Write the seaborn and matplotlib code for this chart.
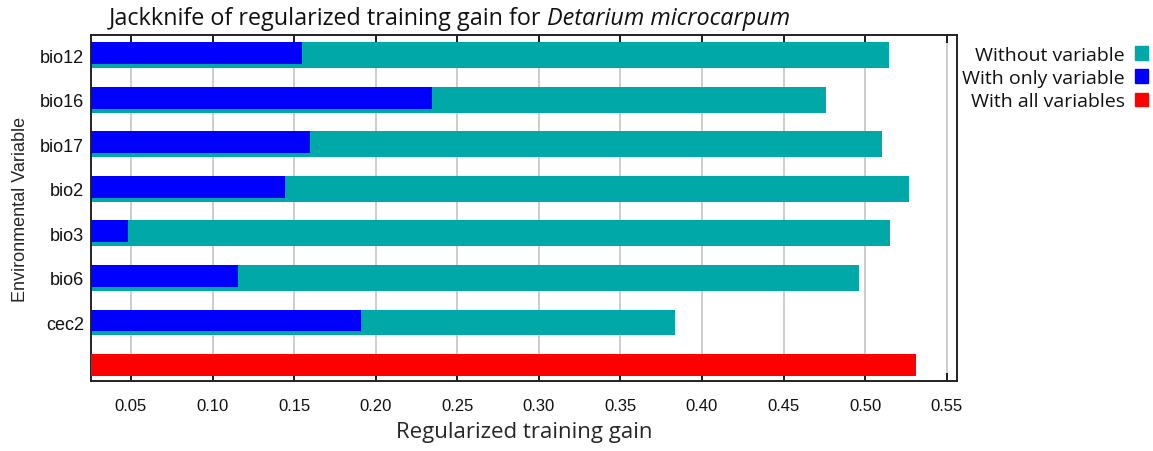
import numpy as np
import pandas as pd
import matplotlib
matplotlib.use("Agg")
import matplotlib.pyplot as plt
import seaborn as sns
from matplotlib.patches import Patch
from matplotlib.ticker import FormatStrFormatter

# values
variables = ["bio12", "bio16", "bio17", "bio2", "bio3", "bio6", "cec2"]
without_var = [0.5147, 0.4761, 0.5105, 0.5270, 0.5154, 0.4963, 0.3835]
only_var = [0.1548, 0.2346, 0.1597, 0.1444, 0.0480, 0.1156, 0.1910]
all_vars = 0.5313

teal = "#00a8a8"
blue = "#0000ff"
red = "#ff0000"

sns.set_style("white")
plt.rcParams["font.family"] = ["Liberation Sans", "DejaVu Sans"]
plt.rcParams["text.color"] = "#111111"

rows = variables + [""]  # last row holds the all-variables bar
df_without = pd.DataFrame({"var": variables, "gain": without_var})
df_only = pd.DataFrame({"var": variables, "gain": only_var})
df_all = pd.DataFrame({"var": [""], "gain": [all_vars]})

fig = plt.figure(figsize=(11.53, 4.52), dpi=100)
ax = fig.add_axes([0.0789, 0.155, 0.7511, 0.765])

teal_w, blue_w = 0.58, 0.49
sns.barplot(data=df_without, x="gain", y="var", order=rows, orient="h",
            color=teal, saturation=1, width=teal_w, ax=ax, zorder=2)
n_teal = len(ax.patches)
sns.barplot(data=df_only, x="gain", y="var", order=rows, orient="h",
            color=blue, saturation=1, width=blue_w, ax=ax, zorder=3)
sns.barplot(data=df_all, x="gain", y="var", order=rows, orient="h",
            color=red, saturation=1, width=blue_w, ax=ax, zorder=3)

# top-align the thinner bars with the teal ones
for p in ax.patches[n_teal:]:
    p.set_y(p.get_y() - (teal_w - blue_w) / 2)
for p in ax.patches:
    p.set_edgecolor("none")

ax.set_xlim(0.0255, 0.5563)
ax.set_ylim(7.31, -0.446)
ax.set_xticks(np.arange(0.05, 0.551, 0.05))
ax.xaxis.set_major_formatter(FormatStrFormatter("%.2f"))
ax.grid(axis="x", color="#cccccc", lw=1.4, zorder=0)
ax.set_axisbelow(True)
ax.tick_params(axis="x", direction="in", length=6, width=1.2, top=True,
               bottom=True, labelsize=12, pad=12, colors="black",
               labelcolor="#111111")
ax.tick_params(axis="y", length=0, labelsize=13, pad=5, labelcolor="#111111")
for s in ax.spines.values():
    s.set_color("#222222")
    s.set_linewidth(1.4)

ax.set_xlabel("Regularized training gain", family="Open Sans", fontsize=16,
              labelpad=6)
ax.set_ylabel("Environmental Variable", fontsize=13, labelpad=8)

# title with italic species name
t1 = fig.text(0.094, 1 - 25 / 452, "Jackknife of regularized training gain for ",
              family="Open Sans", fontsize=16.8, va="baseline")
fig.canvas.draw()
bb = t1.get_window_extent()
x2 = bb.x1 / fig.bbox.width
fig.text(x2, 1 - 25 / 452, "Detarium microcarpum", family="Open Sans",
         style="italic", fontsize=16.8, va="baseline")

handles = [Patch(color=teal), Patch(color=blue), Patch(color=red)]
labels = ["Without variable", "With only variable", "With all variables"]
fig.legend(handles, labels, loc="upper right", bbox_to_anchor=(0.996, 0.897),
           frameon=False, markerfirst=False, handlelength=0.7, handleheight=0.7,
           handletextpad=0.5, labelspacing=0.28, borderaxespad=0, borderpad=0,
           prop={"family": "Open Sans", "size": 14})

fig.savefig("out.png", dpi=100)
